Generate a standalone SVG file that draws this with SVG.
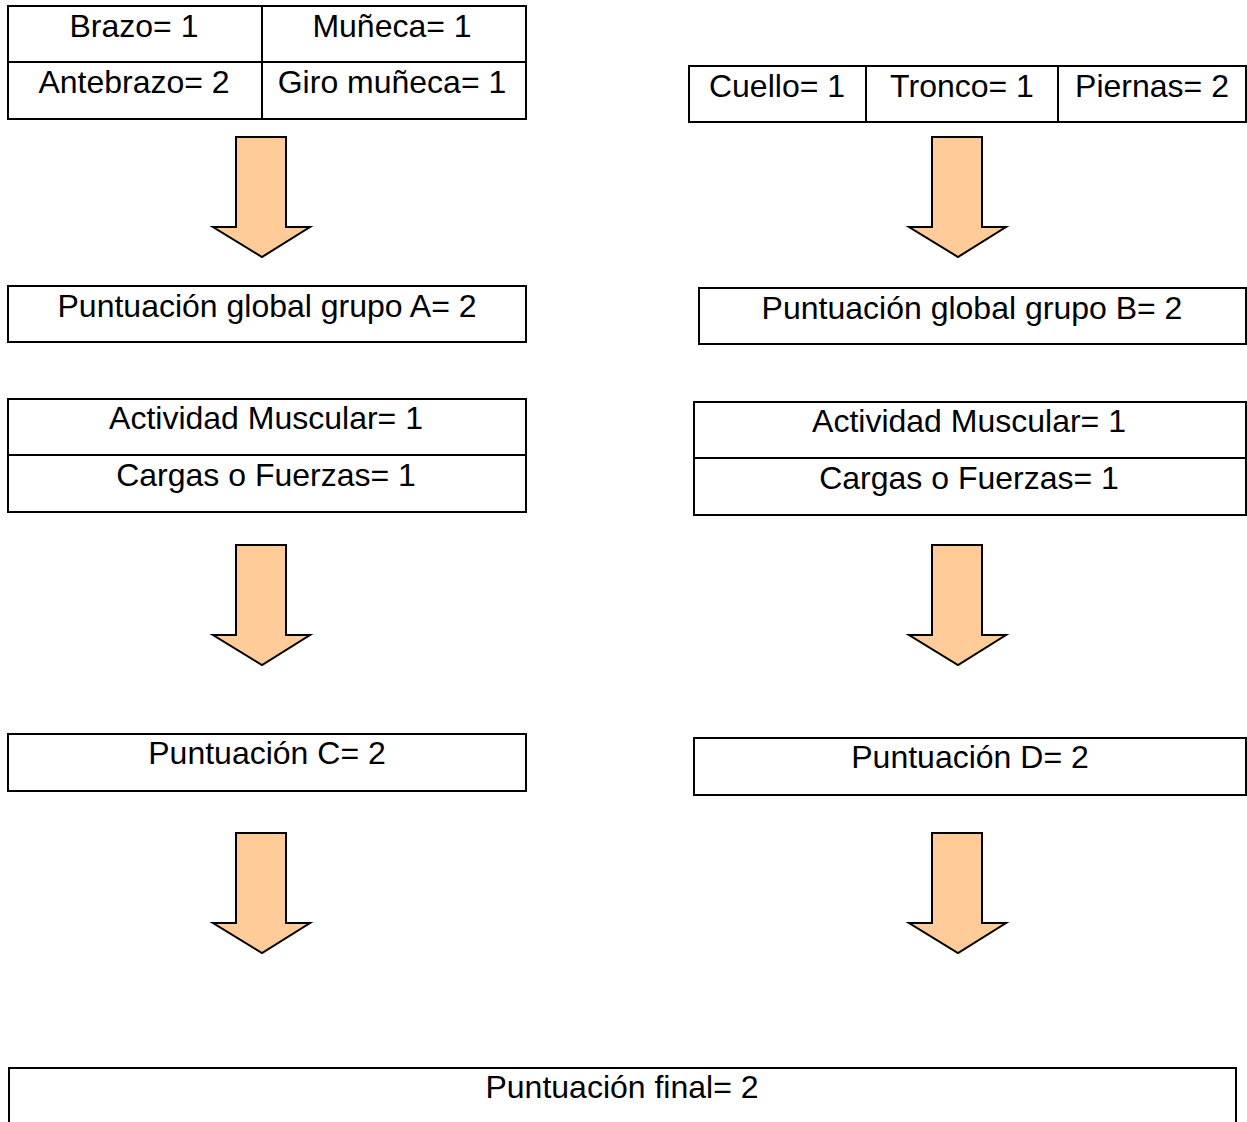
<svg xmlns="http://www.w3.org/2000/svg" width="1247" height="1122" viewBox="0 0 1247 1122">
  <style>
    .box { fill: #ffffff; stroke: #000000; stroke-width: 2; }
    .rule { stroke: #000000; stroke-width: 2; fill: none; }
    .lbl { font-family: "Liberation Sans", Arial, sans-serif; font-size: 32px; fill: #000000; text-anchor: middle; }
    .arrow { fill: #ffcc99; stroke: #000000; stroke-width: 2; stroke-linejoin: miter; }
  </style>
  <defs>
    <!-- block arrow pointing down, tip at (0,0) -->
    <path id="down" class="arrow" d="M -26 -120 L 24 -120 L 24 -30 L 48 -30 L 0 0 L -49 -30 L -26 -30 Z"/>
  </defs>
  <rect width="1247" height="1122" fill="#ffffff"/>

  <!-- Group A inputs -->
  <g id="grupo-a">
    <rect class="box" x="8" y="6" width="518" height="113"/>
    <line class="rule" x1="8" y1="62" x2="526" y2="62"/>
    <line class="rule" x1="262" y1="6" x2="262" y2="119"/>
    <text class="lbl" x="134" y="37">Brazo= 1</text>
    <text class="lbl" x="392" y="37">Muñeca= 1</text>
    <text class="lbl" x="134" y="93">Antebrazo= 2</text>
    <text class="lbl" x="392" y="93">Giro muñeca= 1</text>
  </g>

  <!-- Group B inputs -->
  <g id="grupo-b">
    <rect class="box" x="689" y="66" width="557" height="56"/>
    <line class="rule" x1="866" y1="66" x2="866" y2="122"/>
    <line class="rule" x1="1058" y1="66" x2="1058" y2="122"/>
    <text class="lbl" x="777" y="97">Cuello= 1</text>
    <text class="lbl" x="962" y="97">Tronco= 1</text>
    <text class="lbl" x="1152" y="97">Piernas= 2</text>
  </g>

  <g id="global-a">
    <rect class="box" x="8" y="286" width="518" height="56"/>
    <text class="lbl" x="267" y="317">Puntuación global grupo A= 2</text>
  </g>

  <g id="global-b">
    <rect class="box" x="699" y="288" width="547" height="56"/>
    <text class="lbl" x="972" y="319">Puntuación global grupo B= 2</text>
  </g>

  <g id="actividad-a">
    <rect class="box" x="8" y="399" width="518" height="113"/>
    <line class="rule" x1="8" y1="455" x2="526" y2="455"/>
    <text class="lbl" x="266" y="429">Actividad Muscular= 1</text>
    <text class="lbl" x="266" y="486">Cargas o Fuerzas= 1</text>
  </g>

  <g id="actividad-b">
    <rect class="box" x="694" y="402" width="552" height="113"/>
    <line class="rule" x1="694" y1="458" x2="1246" y2="458"/>
    <text class="lbl" x="969" y="432">Actividad Muscular= 1</text>
    <text class="lbl" x="969" y="489">Cargas o Fuerzas= 1</text>
  </g>

  <g id="puntuacion-c">
    <rect class="box" x="8" y="734" width="518" height="57"/>
    <text class="lbl" x="267" y="764">Puntuación C= 2</text>
  </g>

  <g id="puntuacion-d">
    <rect class="box" x="694" y="738" width="552" height="57"/>
    <text class="lbl" x="970" y="768">Puntuación D= 2</text>
  </g>

  <g id="puntuacion-final">
    <path class="rule" d="M 9 1124 L 9 1068 L 1236 1068 L 1236 1124"/>
    <text class="lbl" x="622" y="1098">Puntuación final= 2</text>
  </g>

  <!-- Connectors: block arrows -->
  <g id="connectors">
    <use href="#down" x="262" y="257"/>
    <use href="#down" x="262" y="665"/>
    <use href="#down" x="262" y="953"/>
    <use href="#down" x="958" y="257"/>
    <use href="#down" x="958" y="665"/>
    <use href="#down" x="958" y="953"/>
  </g>
</svg>
